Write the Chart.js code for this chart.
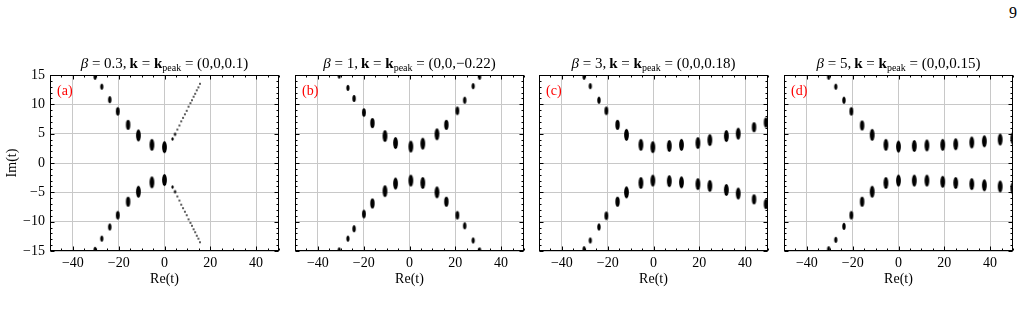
<!DOCTYPE html>
<html><head><meta charset="utf-8">
<script src="https://cdn.jsdelivr.net/npm/chart.js@4/dist/chart.umd.min.js"></script>
<style>
html,body{margin:0;padding:0;background:#fff;width:1023px;height:311px;overflow:hidden;position:relative;font-family:"Liberation Serif","Times New Roman",serif;}
canvas{position:absolute;top:0;}
.ttl{position:absolute;top:54px;height:18px;line-height:18px;text-align:center;font-size:15px;color:#000;white-space:nowrap;}
.ttl sub{font-size:10px;vertical-align:-3px;line-height:0;}
.lab{position:absolute;top:82px;line-height:18px;color:#f00;font-size:14px;}
.pg{position:absolute;left:1009px;top:4px;font-size:16px;line-height:18px;}
</style></head>
<body>
<div class="pg">9</div>
<script>
// ---------- data ----------
const X_TICKS = [-40, -20, 0, 20, 40];
const Y_TICKS = [-15, -10, -5, 0, 5, 10, 15];
const X_RANGE = [-50, 50];
const Y_RANGE = [-15, 15];

const BETAS = ['0.3', '1', '3', '5'];
const KPEAK = ['(0,0,0.1)', '(0,0,\u22120.22)', '(0,0,0.18)', '(0,0,0.15)'];
const LETTERS = ['(a)', '(b)', '(c)', '(d)'];

// panel (a)
const RE_A    = [-30.3, -27.4, -23.9, -20.4, -15.9, -11.4, -5.5, 0.0];
const IM_A_UP = [14.7, 13.0, 10.8, 8.8, 6.5, 4.7, 3.1, 2.7];
const IM_A_DN = [-14.8, -12.9, -10.9, -8.9, -6.6, -4.9, -3.3, -2.9];
const DOT_A_RE = [3.5, 4.6, 5.6, 6.5, 7.3, 8.1, 8.9, 9.7, 10.5, 11.3, 12.0, 12.7, 13.4, 14.1, 14.8, 15.5];
const DOT_A_UP = [4.1, 4.9, 5.7, 6.4, 7.1, 7.7, 8.3, 8.9, 9.6, 10.2, 10.7, 11.3, 11.8, 12.4, 12.9, 13.5];
const DOT_A_DN = [-4.1, -4.9, -5.7, -6.4, -7.1, -7.7, -8.3, -8.9, -9.6, -10.2, -10.7, -11.3, -11.8, -12.4, -12.9, -13.5];

// panel (b)
const RE_B    = [-30.7, -26.9, -24.2, -19.9, -16.2, -10.7, -6.1, 0.6, 5.8, 12.0, 16.1, 20.9, 24.1, 27.8, 30.6];
const IM_B_UP = [14.9, 12.8, 11.0, 8.6, 6.8, 4.6, 3.4, 2.8, 3.3, 4.9, 6.5, 8.9, 10.7, 13.1, 14.7];
const IM_B_DN = [-14.9, -12.9, -11.2, -8.7, -6.9, -4.8, -3.5, -3.0, -3.4, -5.0, -6.6, -8.9, -10.7, -13.2, -14.9];

// panel (c)
const RE_C    = [-30.3, -27.6, -23.8, -20.6, -15.7, -11.8, -5.5, -0.3, 6.9, 12.2, 19.4, 24.6, 31.8, 37.0, 43.9, 49.1];
const IM_C_UP = [14.7, 13.1, 10.7, 8.9, 6.5, 4.8, 3.1, 2.7, 2.9, 3.1, 3.4, 3.9, 4.6, 5.0, 6.1, 6.9];
const IM_C_DN = [-14.7, -13.2, -10.9, -9.0, -6.6, -5.0, -3.4, -3.0, -3.1, -3.3, -3.6, -3.9, -4.6, -5.2, -6.2, -7.0];

// panel (d)
const RE_D    = [-30.5, -27.4, -23.8, -20.6, -15.9, -11.5, -5.5, 0.0, 6.9, 12.4, 19.3, 25.0, 32.0, 37.5, 44.4, 49.9];
const IM_D_UP = [14.7, 13.0, 10.7, 8.8, 6.4, 4.8, 3.1, 2.8, 2.9, 3.0, 3.1, 3.2, 3.5, 3.7, 4.0, 4.2];
const IM_D_DN = [-14.7, -13.1, -10.8, -8.9, -6.6, -4.9, -3.4, -3.0, -3.0, -3.0, -3.2, -3.4, -3.6, -3.8, -4.0, -4.3];

// ---------- styling ----------
const FONT = '"Liberation Serif","Times New Roman",serif';
const X_MINOR = 5, Y_MINOR = 1;
const PLOT_LEFTS = [50, 295, 539, 784];
const PLOT_W = 229, YAXIS_W = 50, RIGHT_PAD = 6;

function ellipseImg(w, h) {
  const c = document.createElement('canvas');
  c.width = Math.ceil(w) + 2; c.height = Math.ceil(h) + 2;
  const g = c.getContext('2d');
  g.fillStyle = '#000';
  g.beginPath(); g.ellipse(c.width / 2, c.height / 2, w / 2, h / 2, 0, 0, Math.PI * 2); g.fill();
  return c;
}
const IMG = {
  xl: ellipseImg(4.8, 12), l: ellipseImg(4.4, 10), m: ellipseImg(3.8, 8.5),
  s: ellipseImg(3.4, 7), xs: ellipseImg(3.2, 6),
  dotBig: ellipseImg(2.4, 3.4), dot: ellipseImg(1.7, 1.9)
};
function ellStyle(ctx) {
  const v = Math.abs(ctx.raw ? ctx.raw.y : 0);
  if (v < 5.5) return IMG.xl;
  if (v < 7.5) return IMG.l;
  if (v < 9.5) return IMG.m;
  if (v < 12) return IMG.s;
  return IMG.xs;
}
function dotStyle(ctx) {
  const v = Math.abs(ctx.raw ? ctx.raw.y : 0);
  return v < 5.5 ? IMG.dotBig : IMG.dot;
}
const fmt = v => String(v).replace('-', '\u2212');

const frameTicks = {
  id: 'frameTicks',
  afterDatasetsDraw(chart) {
    const {ctx, chartArea: a, scales: {x, y}} = chart;
    ctx.save();
    ctx.strokeStyle = '#000'; ctx.lineWidth = 1;
    const L = Math.round(a.left) + 0.5, R = Math.round(a.right) - 0.5;
    const T = Math.round(a.top) + 0.5, B = Math.round(a.bottom) - 0.5;
    ctx.strokeRect(L, T, R - L, B - T);
    ctx.beginPath();
    for (let v = X_RANGE[0]; v <= X_RANGE[1]; v += X_MINOR) {
      const px = Math.round(x.getPixelForValue(v)) + 0.5;
      const len = X_TICKS.includes(v) ? 4 : 2;
      ctx.moveTo(px, B); ctx.lineTo(px, B - len);
      ctx.moveTo(px, T); ctx.lineTo(px, T + len);
    }
    for (let v = Y_RANGE[0]; v <= Y_RANGE[1]; v += Y_MINOR) {
      const py = Math.round(y.getPixelForValue(v)) + 0.5;
      const len = Y_TICKS.includes(v) ? 4 : 2;
      ctx.moveTo(L, py); ctx.lineTo(L + len, py);
      ctx.moveTo(R, py); ctx.lineTo(R - len, py);
    }
    ctx.stroke();
    ctx.restore();
  }
};

const pts = (xs, ys) => xs.map((x, j) => ({x: x, y: ys[j]}));
const PANELS = [
  [[RE_A, IM_A_UP, ellStyle], [RE_A, IM_A_DN, ellStyle], [DOT_A_RE, DOT_A_UP, dotStyle], [DOT_A_RE, DOT_A_DN, dotStyle]],
  [[RE_B, IM_B_UP, ellStyle], [RE_B, IM_B_DN, ellStyle]],
  [[RE_C, IM_C_UP, ellStyle], [RE_C, IM_C_DN, ellStyle]],
  [[RE_D, IM_D_UP, ellStyle], [RE_D, IM_D_DN, ellStyle]]
];

PANELS.forEach((sets, i) => {
  const cv = document.createElement('canvas');
  const W = YAXIS_W + PLOT_W + RIGHT_PAD;
  cv.width = W; cv.height = 311;
  cv.style.width = W + 'px'; cv.style.height = '311px';
  cv.style.left = (PLOT_LEFTS[i] - YAXIS_W) + 'px';
  document.body.appendChild(cv);

  const ttl = document.createElement('div');
  ttl.className = 'ttl';
  ttl.style.left = (PLOT_LEFTS[i] - 20) + 'px'; ttl.style.width = (PLOT_W + 40) + 'px';
  ttl.innerHTML = '<i>\u03b2</i> = ' + BETAS[i] + ',\u2009<b>k</b> = <b>k</b><sub>peak</sub> = ' + KPEAK[i];
  document.body.appendChild(ttl);

  const lab = document.createElement('div');
  lab.className = 'lab';
  lab.style.left = (PLOT_LEFTS[i] + 7) + 'px';
  lab.textContent = LETTERS[i];
  document.body.appendChild(lab);

  new Chart(cv, {
    type: 'scatter',
    data: {
      datasets: sets.map(([xs, ys, st]) => ({
        data: pts(xs, ys),
        pointStyle: st,
        pointRadius: 3,
        pointHoverRadius: 3,
        borderWidth: 0,
        backgroundColor: '#000',
        borderColor: '#000',
        clip: 0
      }))
    },
    options: {
      responsive: false, animation: false, devicePixelRatio: 1, events: [],
      layout: {padding: {left: 0, right: RIGHT_PAD, top: 75, bottom: 23}},
      plugins: {legend: {display: false}, tooltip: {enabled: false}},
      scales: {
        x: {
          type: 'linear', min: X_RANGE[0], max: X_RANGE[1],
          afterBuildTicks: s => { s.ticks = X_TICKS.map(v => ({value: v})); },
          afterFit: s => { s.height = 37; },
          grid: {color: '#c8c8c8', lineWidth: 1, drawTicks: false},
          border: {display: false},
          ticks: {font: {family: FONT, size: 14}, color: '#000', padding: 4, maxRotation: 0, autoSkip: false, callback: fmt},
          title: {display: true, text: 'Re(t)', font: {family: FONT, size: 14}, color: '#000', padding: {top: 0, bottom: 0}}
        },
        y: {
          type: 'linear', min: Y_RANGE[0], max: Y_RANGE[1],
          afterBuildTicks: s => { s.ticks = Y_TICKS.map(v => ({value: v})); },
          afterFit: s => { s.width = YAXIS_W; },
          grid: {color: '#c8c8c8', lineWidth: 1, drawTicks: false},
          border: {display: false},
          ticks: {display: i === 0, font: {family: FONT, size: 14}, color: '#000', padding: 5, autoSkip: false, callback: fmt},
          title: {display: i === 0, text: 'Im(t)', font: {family: FONT, size: 14}, color: '#000', padding: {top: 4, bottom: 0}}
        }
      }
    },
    plugins: [frameTicks]
  });
});
</script>
</body></html>
